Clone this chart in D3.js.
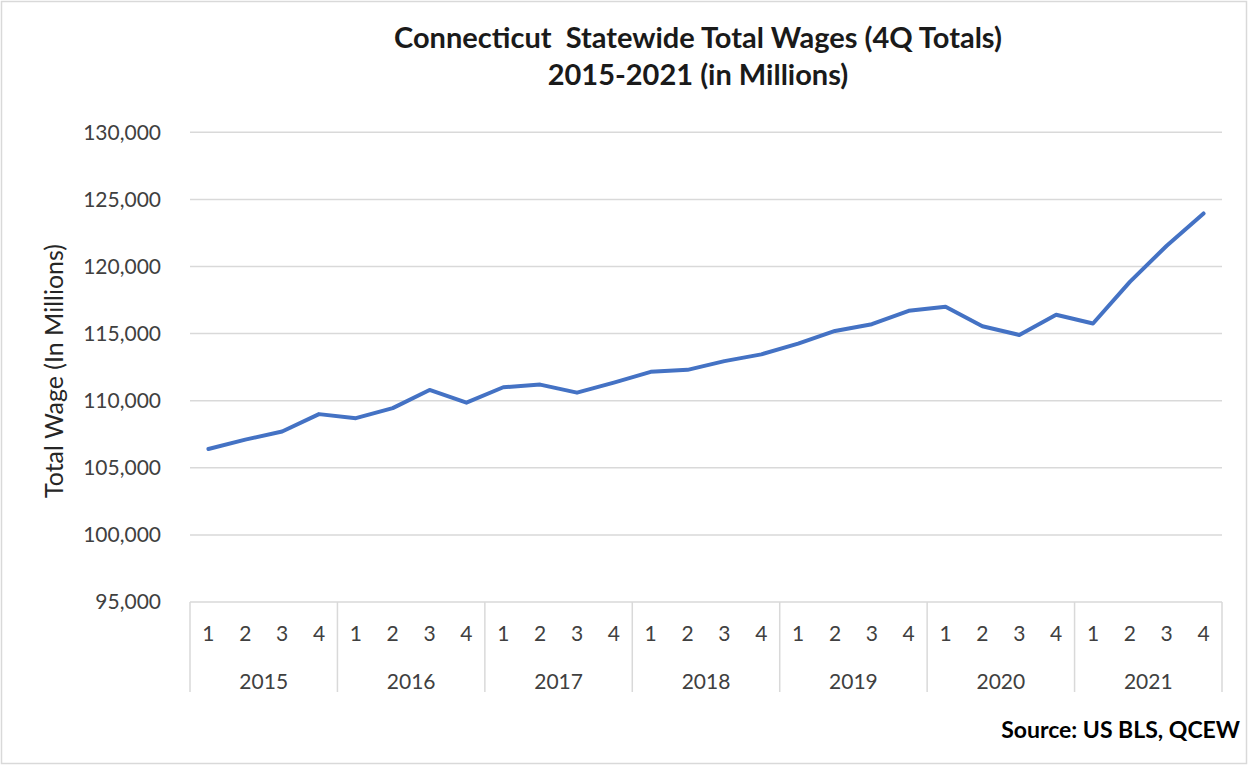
<!DOCTYPE html>
<html>
<head>
<meta charset="utf-8">
<script src="https://cdn.jsdelivr.net/npm/d3@7"></script>
<style>
  html, body { margin: 0; padding: 0; background: #fff; }
  svg { display: block; }
  text { font-family: Lato, "Open Sans", sans-serif; }
</style>
</head>
<body>
<svg id="chart" width="1249" height="765"></svg>
<script>
// Quarterly statewide total wages, millions of dollars
const years = ["2015", "2016", "2017", "2018", "2019", "2020", "2021"];
const quarters = ["1", "2", "3", "4"];
const wages = [
  106400, 107100, 107700, 109000,
  108700, 109450, 110800, 109850,
  111000, 111200, 110600, 111350,
  112150, 112300, 112950, 113450,
  114250, 115200, 115700, 116700,
  117000, 115550, 114900, 116400,
  115750, 118850, 121550, 123950
];
const yTicks = [95000, 100000, 105000, 110000, 115000, 120000, 125000, 130000];
const titleLines = ["Connecticut  Statewide Total Wages (4Q Totals)", "2015-2021 (in Millions)"];
const yAxisTitle = "Total Wage (In Millions)";
const sourceNote = "Source: US BLS, QCEW";

const svg = d3.select("#chart");
const W = 1249, H = 765;
const plot = { left: 190, right: 1222, top: 132.3, bottom: 602 };

// chart area border
svg.append("rect")
  .attr("x", 1.5).attr("y", 1.5)
  .attr("width", W - 4).attr("height", H - 3)
  .attr("fill", "#fff").attr("stroke", "#d9d9d9").attr("stroke-width", 1.5);

const points = [];
years.forEach(yr => quarters.forEach(q => points.push({ year: yr, q: q, key: yr + "-" + q })));
points.forEach((p, i) => p.value = wages[i]);

const x = d3.scaleBand().domain(points.map(p => p.key)).range([plot.left, plot.right]);
const xYear = d3.scaleBand().domain(years).range([plot.left, plot.right]);
const y = d3.scaleLinear().domain([95000, 130000]).range([plot.bottom, plot.top]);

// horizontal gridlines
svg.append("g")
  .selectAll("line")
  .data(yTicks)
  .join("line")
  .attr("x1", plot.left).attr("x2", plot.right)
  .attr("y1", d => y(d)).attr("y2", d => y(d))
  .attr("stroke", "#d9d9d9").attr("stroke-width", 1.5);

// y tick labels
svg.append("g")
  .selectAll("text")
  .data(yTicks)
  .join("text")
  .attr("x", 161).attr("y", d => y(d))
  .attr("dy", "0.35em")
  .attr("text-anchor", "end")
  .attr("font-size", 21)
  .attr("fill", "#404040")
  .text(d => d3.format(",")(d));

// y axis title
svg.append("text")
  .attr("transform", `translate(54, 371) rotate(-90)`)
  .attr("dy", "0.35em")
  .attr("text-anchor", "middle")
  .attr("font-size", 25)
  .attr("fill", "#262626")
  .text(yAxisTitle);

// year dividers in the category axis
const dividerBottom = 692;
svg.append("g")
  .selectAll("line")
  .data(years.map(yr => xYear(yr)).concat([plot.right]))
  .join("line")
  .attr("x1", d => d).attr("x2", d => d)
  .attr("y1", plot.bottom).attr("y2", dividerBottom)
  .attr("stroke", "#d9d9d9").attr("stroke-width", 1.5);

// quarter labels
svg.append("g")
  .selectAll("text")
  .data(points)
  .join("text")
  .attr("x", d => x(d.key) + x.bandwidth() / 2)
  .attr("y", 634)
  .attr("dy", "0.35em")
  .attr("text-anchor", "middle")
  .attr("font-size", 21)
  .attr("fill", "#404040")
  .text(d => d.q);

// year labels
svg.append("g")
  .selectAll("text")
  .data(years)
  .join("text")
  .attr("x", d => xYear(d) + xYear.bandwidth() / 2)
  .attr("y", 682)
  .attr("dy", "0.35em")
  .attr("text-anchor", "middle")
  .attr("font-size", 21)
  .attr("fill", "#404040")
  .text(d => d);

// wage line
const line = d3.line()
  .x(d => x(d.key) + x.bandwidth() / 2)
  .y(d => y(d.value));
svg.append("path")
  .datum(points)
  .attr("d", line)
  .attr("fill", "none")
  .attr("stroke", "#4472C4")
  .attr("stroke-width", 4)
  .attr("stroke-linejoin", "round")
  .attr("stroke-linecap", "round");

// title
svg.append("g")
  .selectAll("text")
  .data(titleLines)
  .join("text")
  .attr("x", 698)
  .attr("y", (d, i) => 38 + i * 37)
  .attr("dy", "0.35em")
  .attr("text-anchor", "middle")
  .attr("font-size", 29)
  .attr("font-weight", "bold")
  .attr("fill", "#1a1a1a")
  .attr("xml:space", "preserve")
  .style("white-space", "pre")
  .text(d => d);

// source note
svg.append("text")
  .attr("x", 1240).attr("y", 730)
  .attr("dy", "0.35em")
  .attr("text-anchor", "end")
  .attr("font-size", 23)
  .attr("font-weight", "bold")
  .attr("fill", "#000")
  .text(sourceNote);
</script>
</body>
</html>
